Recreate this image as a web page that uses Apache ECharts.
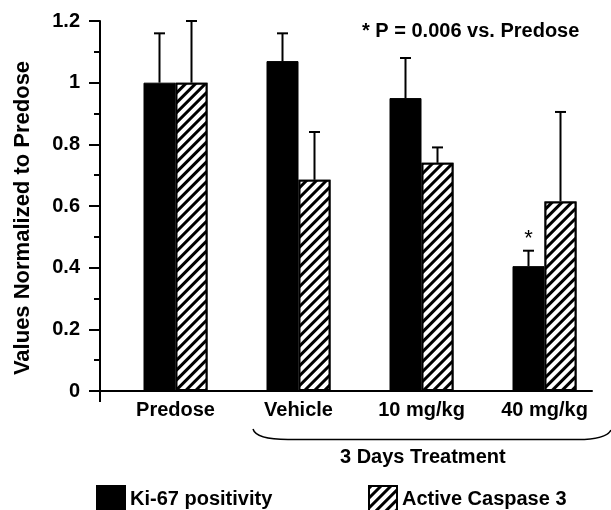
<!DOCTYPE html>
<html><head><meta charset="utf-8">
<script src="https://cdn.jsdelivr.net/npm/echarts@6/dist/echarts.min.js"></script>
<style>html,body{margin:0;padding:0;background:#fff}#c{width:611px;height:510px}</style>
</head><body><div id="c"></div>
<script>
const categories = ['Predose', 'Vehicle', '10 mg/kg', '40 mg/kg'];
const ki67Values = [1.0, 1.07, 0.95, 0.405];
const ki67Err = [0.16, 0.09, 0.13, 0.05];
const caspValues = [1.0, 0.685, 0.74, 0.615];
const caspErr = [0.20, 0.155, 0.05, 0.29];
const ki67Sig = ['', '', '', '*'];
const yMin = 0, yMax = 1.2, yInterval = 0.2;

const FONT = '"Liberation Sans", Arial, sans-serif';
const BAR_W = 32;

function errRender(offset, sig) {
  return function (params, api) {
    const i = api.value(0), v = api.value(1), e = api.value(2);
    const base = api.coord([i, v]);
    const top = api.coord([i, v + e]);
    const x = base[0] + offset;
    const cap = 5.5;
    const children = [
      { type: 'line', shape: { x1: x, y1: base[1], x2: x, y2: top[1] }, style: { stroke: '#000', lineWidth: 2 } },
      { type: 'line', shape: { x1: x - cap, y1: top[1], x2: x + cap, y2: top[1] }, style: { stroke: '#000', lineWidth: 2 } }
    ];
    if (sig && sig[i]) {
      children.push({ type: 'text', x: x, y: top[1] - 1,
        style: { text: sig[i], textAlign: 'center', textVerticalAlign: 'bottom', fontSize: 22, fontFamily: FONT, fill: '#000' } });
    }
    return { type: 'group', children: children };
  };
}

const chart = echarts.init(document.getElementById('c'), null, { renderer: 'canvas' });
chart.setOption({
  animation: false,
  backgroundColor: '#fff',
  textStyle: { fontFamily: FONT },
  title: [
    { text: '* P = 0.006 vs. Predose', left: 362, top: 21, padding: 0,
      textStyle: { fontSize: 20, fontWeight: 'bold', color: '#000', fontFamily: FONT } },
    { text: '3 Days Treatment', left: 340, top: 447, padding: 0,
      textStyle: { fontSize: 20, fontWeight: 'bold', color: '#000', fontFamily: FONT } }
  ],
  legend: [
    { data: ['Ki-67 positivity'], left: 96, top: 485, padding: 0, itemWidth: 28, itemHeight: 26, icon: 'rect', selectedMode: false,
      textStyle: { fontSize: 20, fontWeight: 'bold', color: '#000', fontFamily: FONT } },
    { data: ['Active Caspase 3'], left: 368, top: 485, padding: 0, itemWidth: 28, itemHeight: 26, icon: 'rect', selectedMode: false,
      textStyle: { fontSize: 20, fontWeight: 'bold', color: '#000', fontFamily: FONT } }
  ],
  grid: [
    { left: 100, right: 19, top: 21, bottom: 119 },
    { left: 114, right: 5, top: 21, bottom: 119 }
  ],
  xAxis: [
    { type: 'value', gridIndex: 0, min: 0, max: 1, interval: 1,
      axisLine: { show: true, lineStyle: { color: '#000', width: 2 } },
      axisTick: { show: true, length: 11, customValues: [0], lineStyle: { color: '#000', width: 2 } },
      axisLabel: { show: false }, splitLine: { show: false } },
    { type: 'category', gridIndex: 1, data: categories,
      axisLine: { show: false }, axisTick: { show: false },
      axisLabel: { fontSize: 20, fontWeight: 'bold', color: '#000', margin: 9, fontFamily: FONT } }
  ],
  yAxis: [
    { type: 'value', gridIndex: 0, min: yMin, max: yMax, interval: yInterval,
      name: 'Values Normalized to Predose', nameLocation: 'middle', nameGap: 66,
      nameTextStyle: { fontSize: 22, fontWeight: 'bold', color: '#000', fontFamily: FONT, padding: [0, 24, 0, 0] },
      axisLine: { show: true, lineStyle: { color: '#000', width: 2 } },
      axisTick: { show: true, inside: false, length: 11, lineStyle: { color: '#000', width: 2 } },
      minorTick: { show: true, splitNumber: 2, length: 6, lineStyle: { color: '#000', width: 2 } },
      axisLabel: { fontSize: 20, fontWeight: 'bold', color: '#000', margin: 20, fontFamily: FONT },
      splitLine: { show: false }, minorSplitLine: { show: false } },
    { type: 'value', gridIndex: 1, min: yMin, max: yMax, show: false, splitLine: { show: false } }
  ],
  series: [
    { name: 'Ki-67 positivity', type: 'bar', xAxisIndex: 1, yAxisIndex: 1, barWidth: BAR_W, barGap: '0%',
      data: ki67Values, itemStyle: { color: '#000', borderColor: '#000', borderWidth: 1 } },
    { name: 'Active Caspase 3', type: 'bar', xAxisIndex: 1, yAxisIndex: 1, barWidth: BAR_W, barGap: '0%',
      data: caspValues,
      itemStyle: { color: '#fff', borderColor: '#000', borderWidth: 2,
        decal: { symbol: 'rect', symbolSize: 1, dashArrayX: [1, 0], dashArrayY: [3, 4], rotation: -Math.PI / 4, color: '#000', backgroundColor: '#fff' } } },
    { type: 'custom', xAxisIndex: 1, yAxisIndex: 1, z: 5, silent: true,
      renderItem: errRender(-BAR_W / 2, ki67Sig),
      encode: { x: 0, y: 1 },
      data: ki67Values.map((v, i) => [i, v, ki67Err[i]]) },
    { type: 'custom', xAxisIndex: 1, yAxisIndex: 1, z: 5, silent: true,
      renderItem: errRender(BAR_W / 2, null),
      encode: { x: 0, y: 1 },
      data: caspValues.map((v, i) => [i, v, caspErr[i]]) }
  ],
  graphic: [
    { type: 'bezierCurve', silent: true,
      shape: { x1: 253, y1: 429, cpx1: 256, cpy1: 439.5, x2: 288, y2: 439.5 },
      style: { stroke: '#000', lineWidth: 1.5, fill: null } },
    { type: 'line', silent: true,
      shape: { x1: 288, y1: 439.5, x2: 578, y2: 439.5 },
      style: { stroke: '#000', lineWidth: 1.5 } },
    { type: 'bezierCurve', silent: true,
      shape: { x1: 578, y1: 439.5, cpx1: 606, cpy1: 439.5, x2: 611, y2: 430 },
      style: { stroke: '#000', lineWidth: 1.5, fill: null } }
  ]
});
</script></body></html>
